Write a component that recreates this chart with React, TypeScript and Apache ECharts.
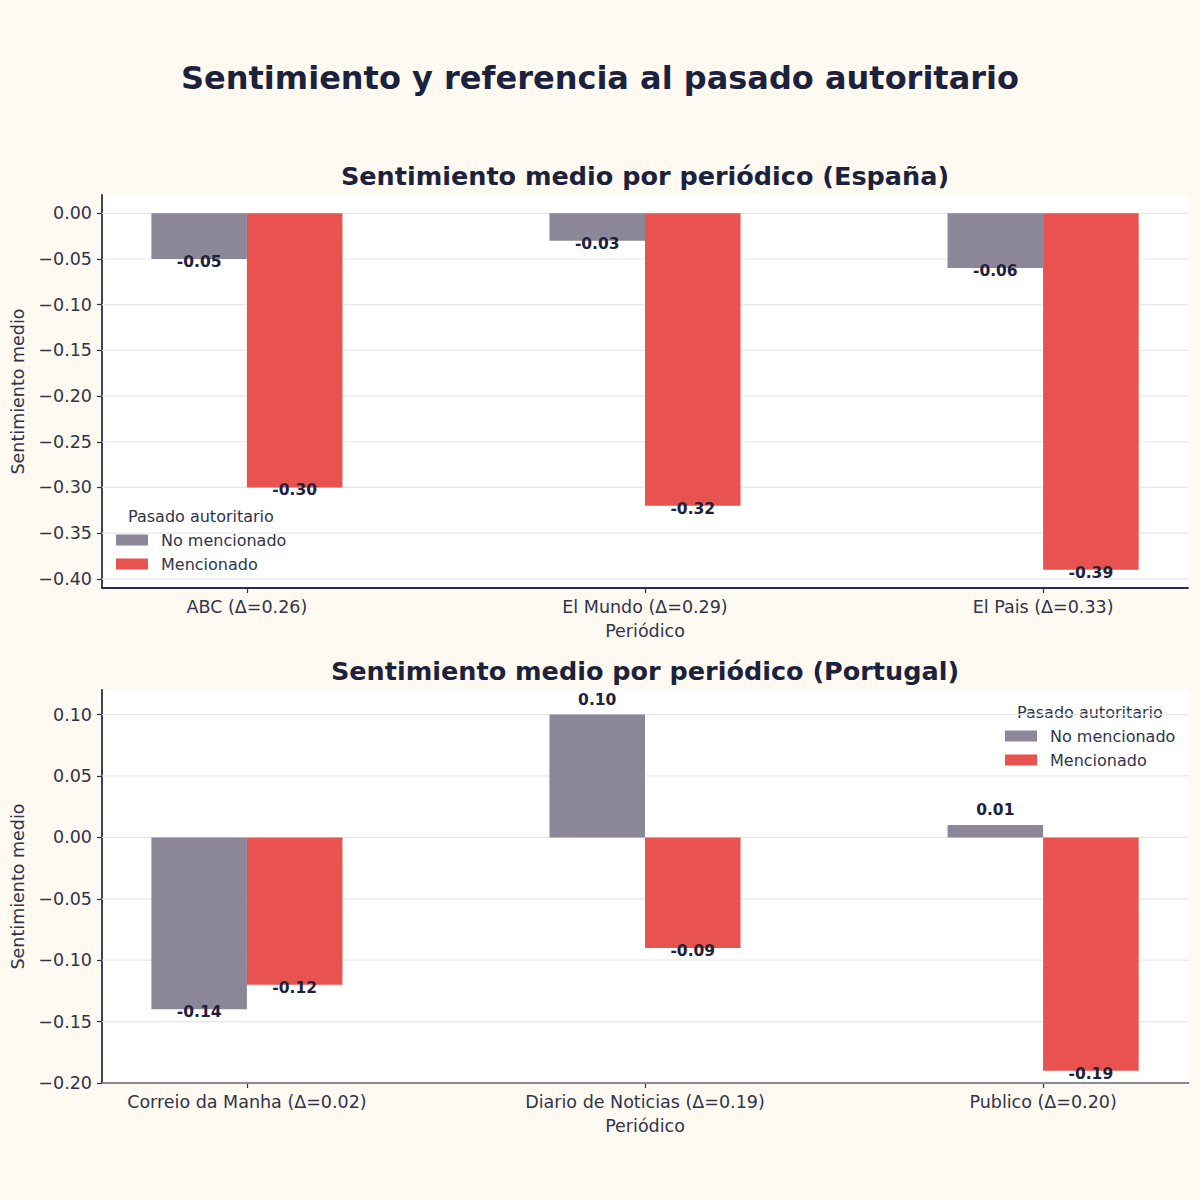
import React, { useEffect, useRef } from "react";
import * as echarts from "echarts";

const esCategories = ["ABC (Δ=0.26)", "El Mundo (Δ=0.29)", "El Pais (Δ=0.33)"];
const esNoMencionado = [-0.05, -0.03, -0.06];
const esMencionado = [-0.3, -0.32, -0.39];
const esTicks = [0.0, -0.05, -0.1, -0.15, -0.2, -0.25, -0.3, -0.35, -0.4];

const ptCategories = ["Correio da Manha (Δ=0.02)", "Diario de Noticias (Δ=0.19)", "Publico (Δ=0.20)"];
const ptNoMencionado = [-0.14, 0.1, 0.01];
const ptMencionado = [-0.12, -0.09, -0.19];
const ptTicks = [0.1, 0.05, 0.0, -0.05, -0.1, -0.15, -0.2];

const seriesNames = ["No mencionado", "Mencionado"];
const legendTitle = "Pasado autoritario";

const GREY = "#8b8799";
const RED = "#e8524f";
const DARK = "#1c223c";
const TICKC = "#2f3449";
const FONT = "DejaVu Sans";
const BAR_W = 0.24;
const X_MIN = -0.364;
const X_MAX = 2.364;

const fmtY = (v: number) => (v < -1e-9 ? "\u2212" : "") + Math.abs(v).toFixed(2);
const fmtLbl = (v: number) => (v < 0 ? "-" : "") + Math.abs(v).toFixed(2);

function barSeries(name: string, values: number[], color: string, side: number, gi: number) {
  return {
    name,
    type: "custom",
    xAxisIndex: gi,
    yAxisIndex: gi,
    itemStyle: { color },
    z: 3,
    data: values.map((v, i) => [i, v]),
    renderItem: (params: any, api: any) => {
      const idx = api.value(0);
      const v = api.value(1);
      const left = side < 0 ? idx - BAR_W : idx;
      const right = side < 0 ? idx : idx + BAR_W;
      const p0 = api.coord([left, 0]);
      const p1 = api.coord([right, v]);
      const x = Math.min(p0[0], p1[0]);
      const y = Math.min(p0[1], p1[1]);
      const w = Math.abs(p1[0] - p0[0]);
      const h = Math.abs(p1[1] - p0[1]);
      const cx = (p0[0] + p1[0]) / 2;
      const ty = v >= 0 ? p1[1] - 15 : p1[1] + 3;
      return {
        type: "group",
        children: [
          { type: "rect", shape: { x, y, width: w, height: h }, style: { fill: color } },
          {
            type: "text",
            z2: 10,
            style: {
              x: cx,
              y: ty,
              text: fmtLbl(v),
              align: "center",
              verticalAlign: "middle",
              fill: DARK,
              font: `bold 15.5px '${FONT}'`,
            },
          },
        ],
      };
    },
  };
}

function gridSeries(ticks: number[], gi: number) {
  return {
    name: "grid" + gi,
    type: "custom",
    xAxisIndex: gi,
    yAxisIndex: gi,
    silent: true,
    z: 1,
    data: ticks.map((t) => [0, t]),
    renderItem: (params: any, api: any) => {
      const v = api.value(1);
      const a = api.coord([X_MIN, v]);
      const b = api.coord([X_MAX, v]);
      return {
        type: "line",
        shape: { x1: a[0], y1: a[1], x2: b[0], y2: b[1] },
        style: { stroke: "#e7e7ec", lineWidth: 1.2 },
      };
    },
  };
}

function xAxis(cats: string[], gi: number) {
  return {
    type: "value",
    gridIndex: gi,
    min: X_MIN,
    max: X_MAX,
    name: "Periódico",
    nameLocation: "middle",
    nameGap: 34,
    nameTextStyle: { fontFamily: FONT, fontSize: 17.5, color: TICKC },
    axisLine: { show: true, onZero: false, lineStyle: { color: "#2a2f45", width: 1.8 } },
    axisTick: { show: true, customValues: [0, 1, 2], length: 5, lineStyle: { color: "#2a2f45", width: 1.2 } },
    axisLabel: {
      customValues: [0, 1, 2],
      formatter: (v: number) => cats[Math.round(v)],
      fontFamily: FONT,
      fontSize: 17.5,
      color: TICKC,
      margin: 10,
    },
    splitLine: { show: false },
  };
}

function yAxis(ticks: number[], min: number, max: number, gi: number) {
  return {
    type: "value",
    gridIndex: gi,
    min,
    max,
    name: "Sentimiento medio",
    nameLocation: "middle",
    nameGap: 73,
    nameTextStyle: { fontFamily: FONT, fontSize: 17.5, color: TICKC },
    axisLine: { show: true, onZero: false, lineStyle: { color: "#2a2f45", width: 1.8 } },
    axisTick: { show: true, customValues: ticks, length: 5, lineStyle: { color: "#2a2f45", width: 1.2 } },
    axisLabel: {
      customValues: ticks,
      formatter: (v: number) => fmtY(v),
      fontFamily: FONT,
      fontSize: 17.5,
      color: TICKC,
      margin: 10,
    },
    splitLine: { show: false },
  };
}

function legend(left: number, top: number) {
  return {
    data: seriesNames,
    orient: "vertical",
    left,
    top,
    padding: 0,
    itemWidth: 32,
    itemHeight: 11,
    itemGap: 8,
    icon: "rect",
    textStyle: { fontFamily: FONT, fontSize: 16, lineHeight: 16, color: TICKC, padding: [0, 0, 0, 8] },
    selectedMode: false,
  };
}

export default function App() {
  const ref = useRef<HTMLDivElement>(null);
  useEffect(() => {
    if (!ref.current) return;
    const chart = echarts.init(ref.current, null, { renderer: "svg" });
    const option: any = {
      animation: false,
      backgroundColor: "#fefaf2",
      title: [
        {
          text: "Sentimiento y referencia al pasado autoritario",
          left: "center",
          top: 57,
          textStyle: { fontFamily: FONT, fontSize: 32, fontWeight: "bold", color: DARK },
        },
        {
          text: "Sentimiento medio por periódico (España)",
          left: 640,
          textAlign: "center",
          top: 158,
          textStyle: { fontFamily: FONT, fontSize: 25.5, fontWeight: "bold", color: DARK },
        },
        {
          text: "Sentimiento medio por periódico (Portugal)",
          left: 640,
          textAlign: "center",
          top: 653,
          textStyle: { fontFamily: FONT, fontSize: 25.5, fontWeight: "bold", color: DARK },
        },
      ],
      grid: [
        { left: 102, top: 195, width: 1086, height: 393, show: true, backgroundColor: "#ffffff", borderWidth: 0 },
        { left: 102, top: 690, width: 1086, height: 393, show: true, backgroundColor: "#ffffff", borderWidth: 0 },
      ],
      xAxis: [xAxis(esCategories, 0), xAxis(ptCategories, 1)],
      yAxis: [yAxis(esTicks, -0.41, 0.02, 0), yAxis(ptTicks, -0.2, 0.12, 1)],
      legend: [legend(116, 532), legend(1005, 728)],
      graphic: [
        {
          type: "text",
          left: 128,
          top: 508,
          style: { text: legendTitle, font: `16px '${FONT}'`, fill: TICKC },
        },
        {
          type: "text",
          left: 1017,
          top: 704,
          style: { text: legendTitle, font: `16px '${FONT}'`, fill: TICKC },
        },
      ],
      series: [
        gridSeries(esTicks, 0),
        gridSeries(ptTicks, 1),
        barSeries(seriesNames[0], esNoMencionado, GREY, -1, 0),
        barSeries(seriesNames[1], esMencionado, RED, 1, 0),
        barSeries(seriesNames[0], ptNoMencionado, GREY, -1, 1),
        barSeries(seriesNames[1], ptMencionado, RED, 1, 1),
      ],
    };
    chart.setOption(option);
    return () => chart.dispose();
  }, []);
  return (
    <div
      ref={ref}
      style={{ position: "fixed", left: 0, top: 0, width: 1200, height: 1200 }}
    />
  );
}
